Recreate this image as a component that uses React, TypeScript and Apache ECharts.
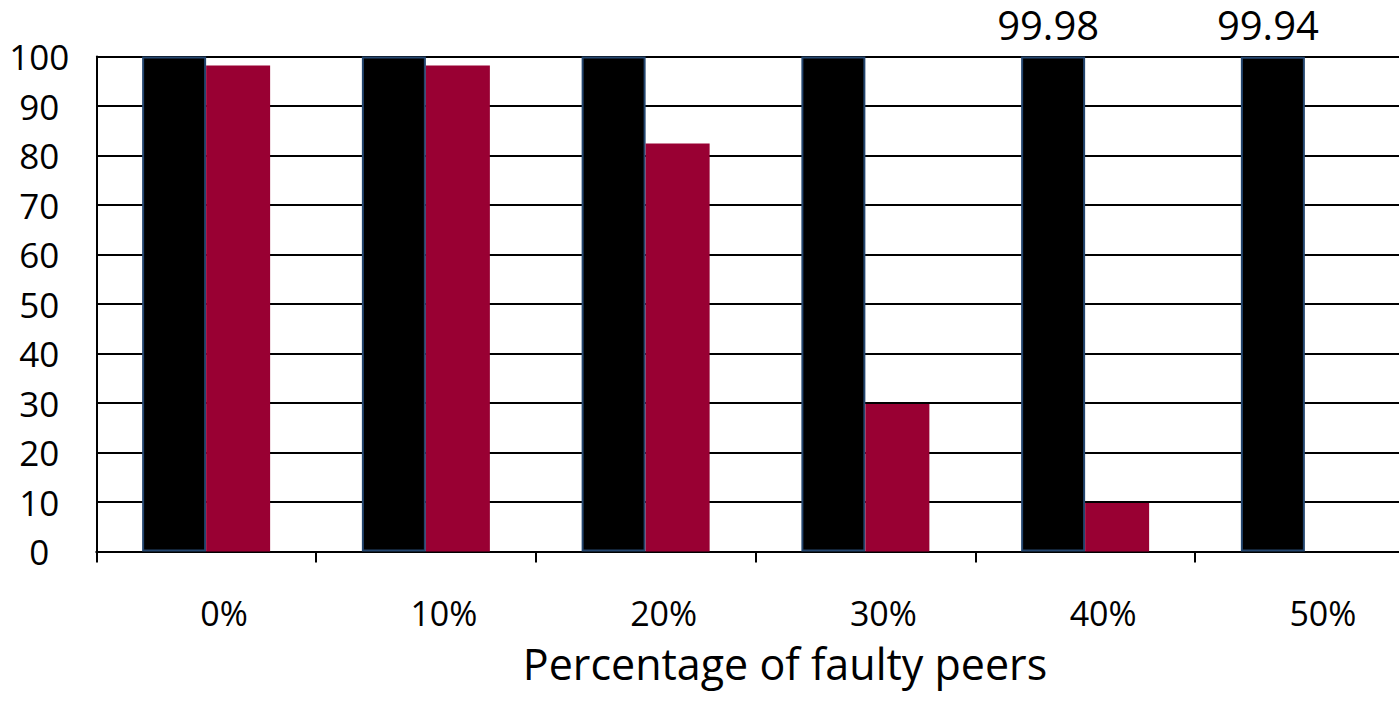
import React, { useEffect, useRef } from "react";
import * as echarts from "echarts";

const categories = ["0%", "10%", "20%", "30%", "40%", "50%"];
const blackValues = [100, 100, 100, 100, 99.98, 99.94];
const redValues = [98.2, 98.2, 82.4, 29.8, 9.8, 0];
const labeledBlack = [false, false, false, false, true, true];
const yTicks = [0, 10, 20, 30, 40, 50, 60, 70, 80, 90, 100];
const xAxisTitle = "Percentage of faulty peers";

const FONT = "'Open Sans', sans-serif";

export default function App() {
  const ref = useRef<HTMLDivElement>(null);
  useEffect(() => {
    document.body.style.margin = "0";
    if (!ref.current) return;
    const chart = echarts.init(ref.current, null, { renderer: "svg" });
    chart.setOption({
      animation: false,
      backgroundColor: "#ffffff",
      grid: {
        left: 96.25,
        top: 56.5,
        right: -15.75,
        bottom: 709 - 551.5,
        containLabel: false,
        outerBoundsMode: "none",
      },
      xAxis: {
        type: "category",
        data: categories,
        axisLine: { show: true, lineStyle: { color: "#000", width: 2 } },
        axisTick: { show: true, length: 11, lineStyle: { color: "#000", width: 2 } },
        axisLabel: {
          fontFamily: FONT,
          fontSize: 34,
          color: "#000",
          margin: 44,
          padding: [0, 0, 0, 36],
        },
        splitLine: { show: false },
      },
      yAxis: {
        type: "value",
        min: yTicks[0],
        max: yTicks[yTicks.length - 1],
        interval: 10,
        axisLine: { show: true, lineStyle: { color: "#000", width: 2 } },
        axisTick: { show: false },
        axisLabel: {
          fontFamily: FONT,
          fontSize: 35,
          color: "#000",
          align: "center",
          margin: 57,
        },
        splitLine: { show: true, lineStyle: { color: "#000", width: 2 } },
      },
      series: [
        {
          type: "bar",
          data: blackValues.map((v, i) => ({
            value: v,
            label: {
              show: labeledBlack[i],
              position: "top",
              distance: 12,
              offset: [-5, 0],
              fontFamily: FONT,
              fontSize: 40,
              lineHeight: 40,
              color: "#000",
              formatter: "{c}",
            },
          })),
          barWidth: 64,
          barGap: "0%",
          itemStyle: { color: "#000000", borderColor: "#24466f", borderWidth: 2 },
        },
        {
          type: "bar",
          data: redValues,
          barWidth: 64,
          barGap: "0%",
          itemStyle: { color: "#990033" },
        },
      ],
      graphic: [
        {
          type: "text",
          x: 785,
          y: 642,
          style: {
            text: xAxisTitle,
            fontFamily: FONT,
            fontSize: 43,
            fill: "#000",
            align: "center",
            verticalAlign: "top",
          },
        },
      ],
    });
    return () => chart.dispose();
  }, []);
  return <div ref={ref} style={{ width: 1399, height: 709 }} />;
}
